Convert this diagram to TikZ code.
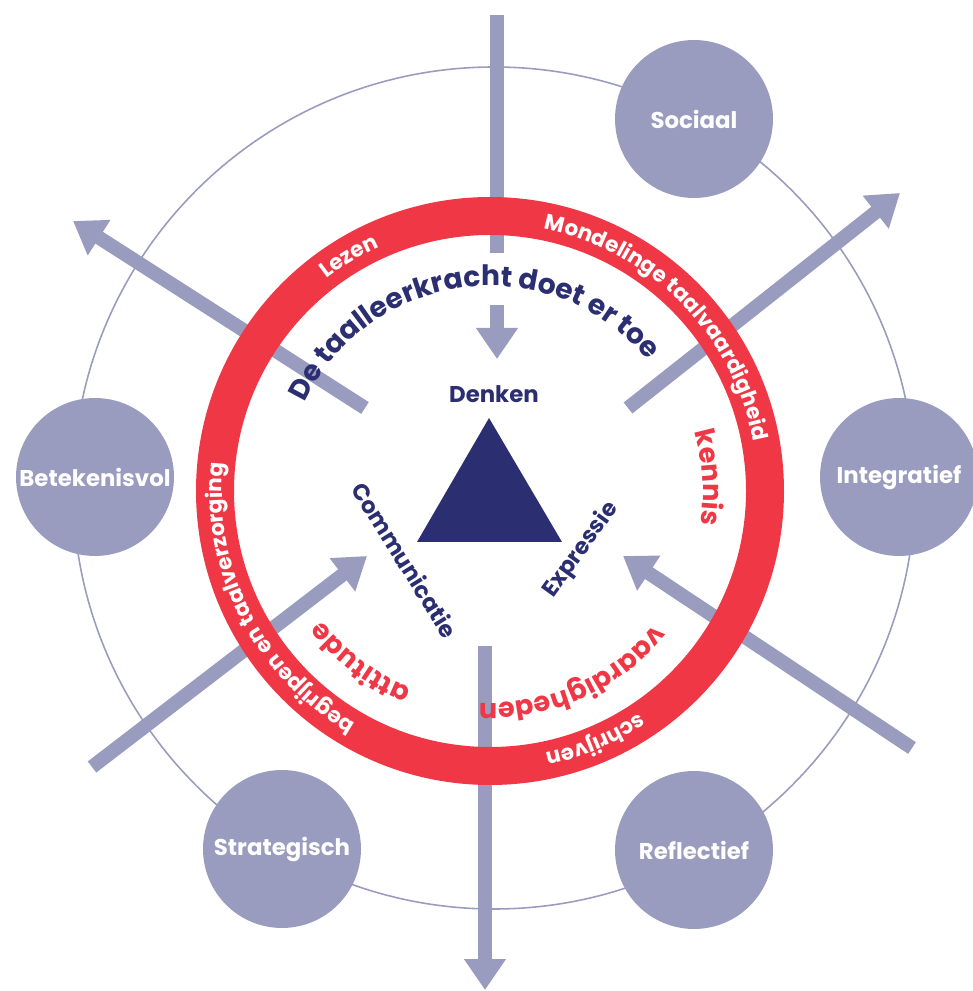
\documentclass[tikz,border=0pt]{standalone}
\usepackage{fontspec}
\setmainfont{Poppins}
\usetikzlibrary{arrows.meta,decorations.text}
\definecolor{lila}{RGB}{153,156,190}
\definecolor{rood}{RGB}{239,55,70}
\definecolor{donkerblauw}{RGB}{43,46,112}
\newcommand\ringletter{\color{white}\bfseries\fontsize{12.3}{15}\selectfont}
\newcommand\roodletter{\color{rood}\bfseries\fontsize{15.5}{18}\selectfont}
\newcommand\titelletter{\color{donkerblauw}\bfseries\fontsize{16}{19}\selectfont}
\tikzset{
	pijl/.style={lila,line width=0.28cm,-{Triangle[width=0.8cm,length=0.62cm]}},
	schacht/.style={lila,line width=0.28cm},
	bol/.style={circle,fill=lila,minimum size=3.16cm,inner sep=0pt,text=white,font=\bfseries\fontsize{13}{15}\selectfont},
	hoek/.style={text=donkerblauw,font=\bfseries\fontsize{13}{16}\selectfont},
}
\begin{document}
\begin{tikzpicture}[x=0.02cm,y=0.02cm]
	\useasboundingbox (0,0) rectangle (973,991);
	\coordinate (M) at (494,503);
	\coordinate (C) at (490,500);
	\draw[lila,line width=0.9pt] (M) circle[radius=421];
	\node[bol] (sociaal) at (694,872) {Sociaal};
	\node[bol] (integratief) at (899,514) {Integratief};
	\node[bol] (reflectief) at (694,141) {Reflectief};
	\node[bol] (strategisch) at (282,142) {Strategisch};
	\node[bol] (betekenisvol) at (95,514) {Betekenisvol};
	\coordinate (boven) at (497,976);
	\coordinate (bovenA) at (497,738);
	\coordinate (bovenB) at (497,686);
	\coordinate (denkenpunt) at (497,632);
	\coordinate (onderstart) at (485,345);
	\coordinate (onder) at (485,1);
	\coordinate (lbstart) at (365,583);
	\coordinate (lb) at (73,770);
	\coordinate (rbstart) at (628,583);
	\coordinate (rb) at (900,798);
	\coordinate (lo) at (92,224);
	\coordinate (communicatiepunt) at (367,435);
	\coordinate (ro) at (912,243);
	\coordinate (expressiepunt) at (623,435);
	\draw[schacht] (boven) -- (bovenA);
	\draw[pijl] (bovenB) -- (denkenpunt);
	\draw[pijl] (onderstart) -- (onder);
	\draw[pijl] (lbstart) -- (lb);
	\draw[pijl] (rbstart) -- (rb);
	\draw[pijl] (lo) -- (communicatiepunt);
	\draw[pijl] (ro) -- (expressiepunt);
	\draw[rood,line width=0.76cm] (C) circle[radius=275];
	\fill[donkerblauw] (489,573) -- (417,449) -- (562,449) -- cycle;
	\node[hoek] (denken) at (494,597) {Denken};
	\node[hoek,rotate=-58] (communicatie) at (405,431) {Communicatie};
	\node[hoek,rotate=54] (expressie) at (581,441) {Expressie};
	\path[decorate,decoration={text along path,text align=center,text={|\ringletter|Lezen}}] ([shift={(141:268)}]C) arc[start angle=141,end angle=101,radius=268];
	\path[decorate,decoration={text along path,text align=center,text={|\ringletter|Mondelinge taalvaardigheid}}] ([shift={(95:268)}]C) arc[start angle=95,end angle=-6,radius=268];
	\path[decorate,decoration={text along path,text align=center,text={|\ringletter|schrijven}}] ([shift={(-47:268)}]C) arc[start angle=-47,end angle=-87,radius=268];
	\path[decorate,decoration={text along path,text align=center,text={|\ringletter|begrijpen en taalverzorging}}] ([shift={(254:268)}]C) arc[start angle=254,end angle=160,radius=268];
	\path[decorate,decoration={text along path,text align=center,text={|\titelletter|De taalleerkracht doet er toe}}] ([shift={(165:205)}]C) arc[start angle=165,end angle=29,radius=205];
	\path[decorate,decoration={text along path,text align=center,text={|\roodletter|kennis}}] ([shift={(25:213)}]C) arc[start angle=25,end angle=-18,radius=213];
	\path[decorate,decoration={text along path,text align=center,text={|\roodletter|vaardigheden}}] ([shift={(-30:212)}]C) arc[start angle=-30,end angle=-102,radius=212];
	\path[decorate,decoration={text along path,text align=center,text={|\roodletter|attitude}}] ([shift={(253:212)}]C) arc[start angle=253,end angle=213,radius=212];
\end{tikzpicture}
\end{document}
